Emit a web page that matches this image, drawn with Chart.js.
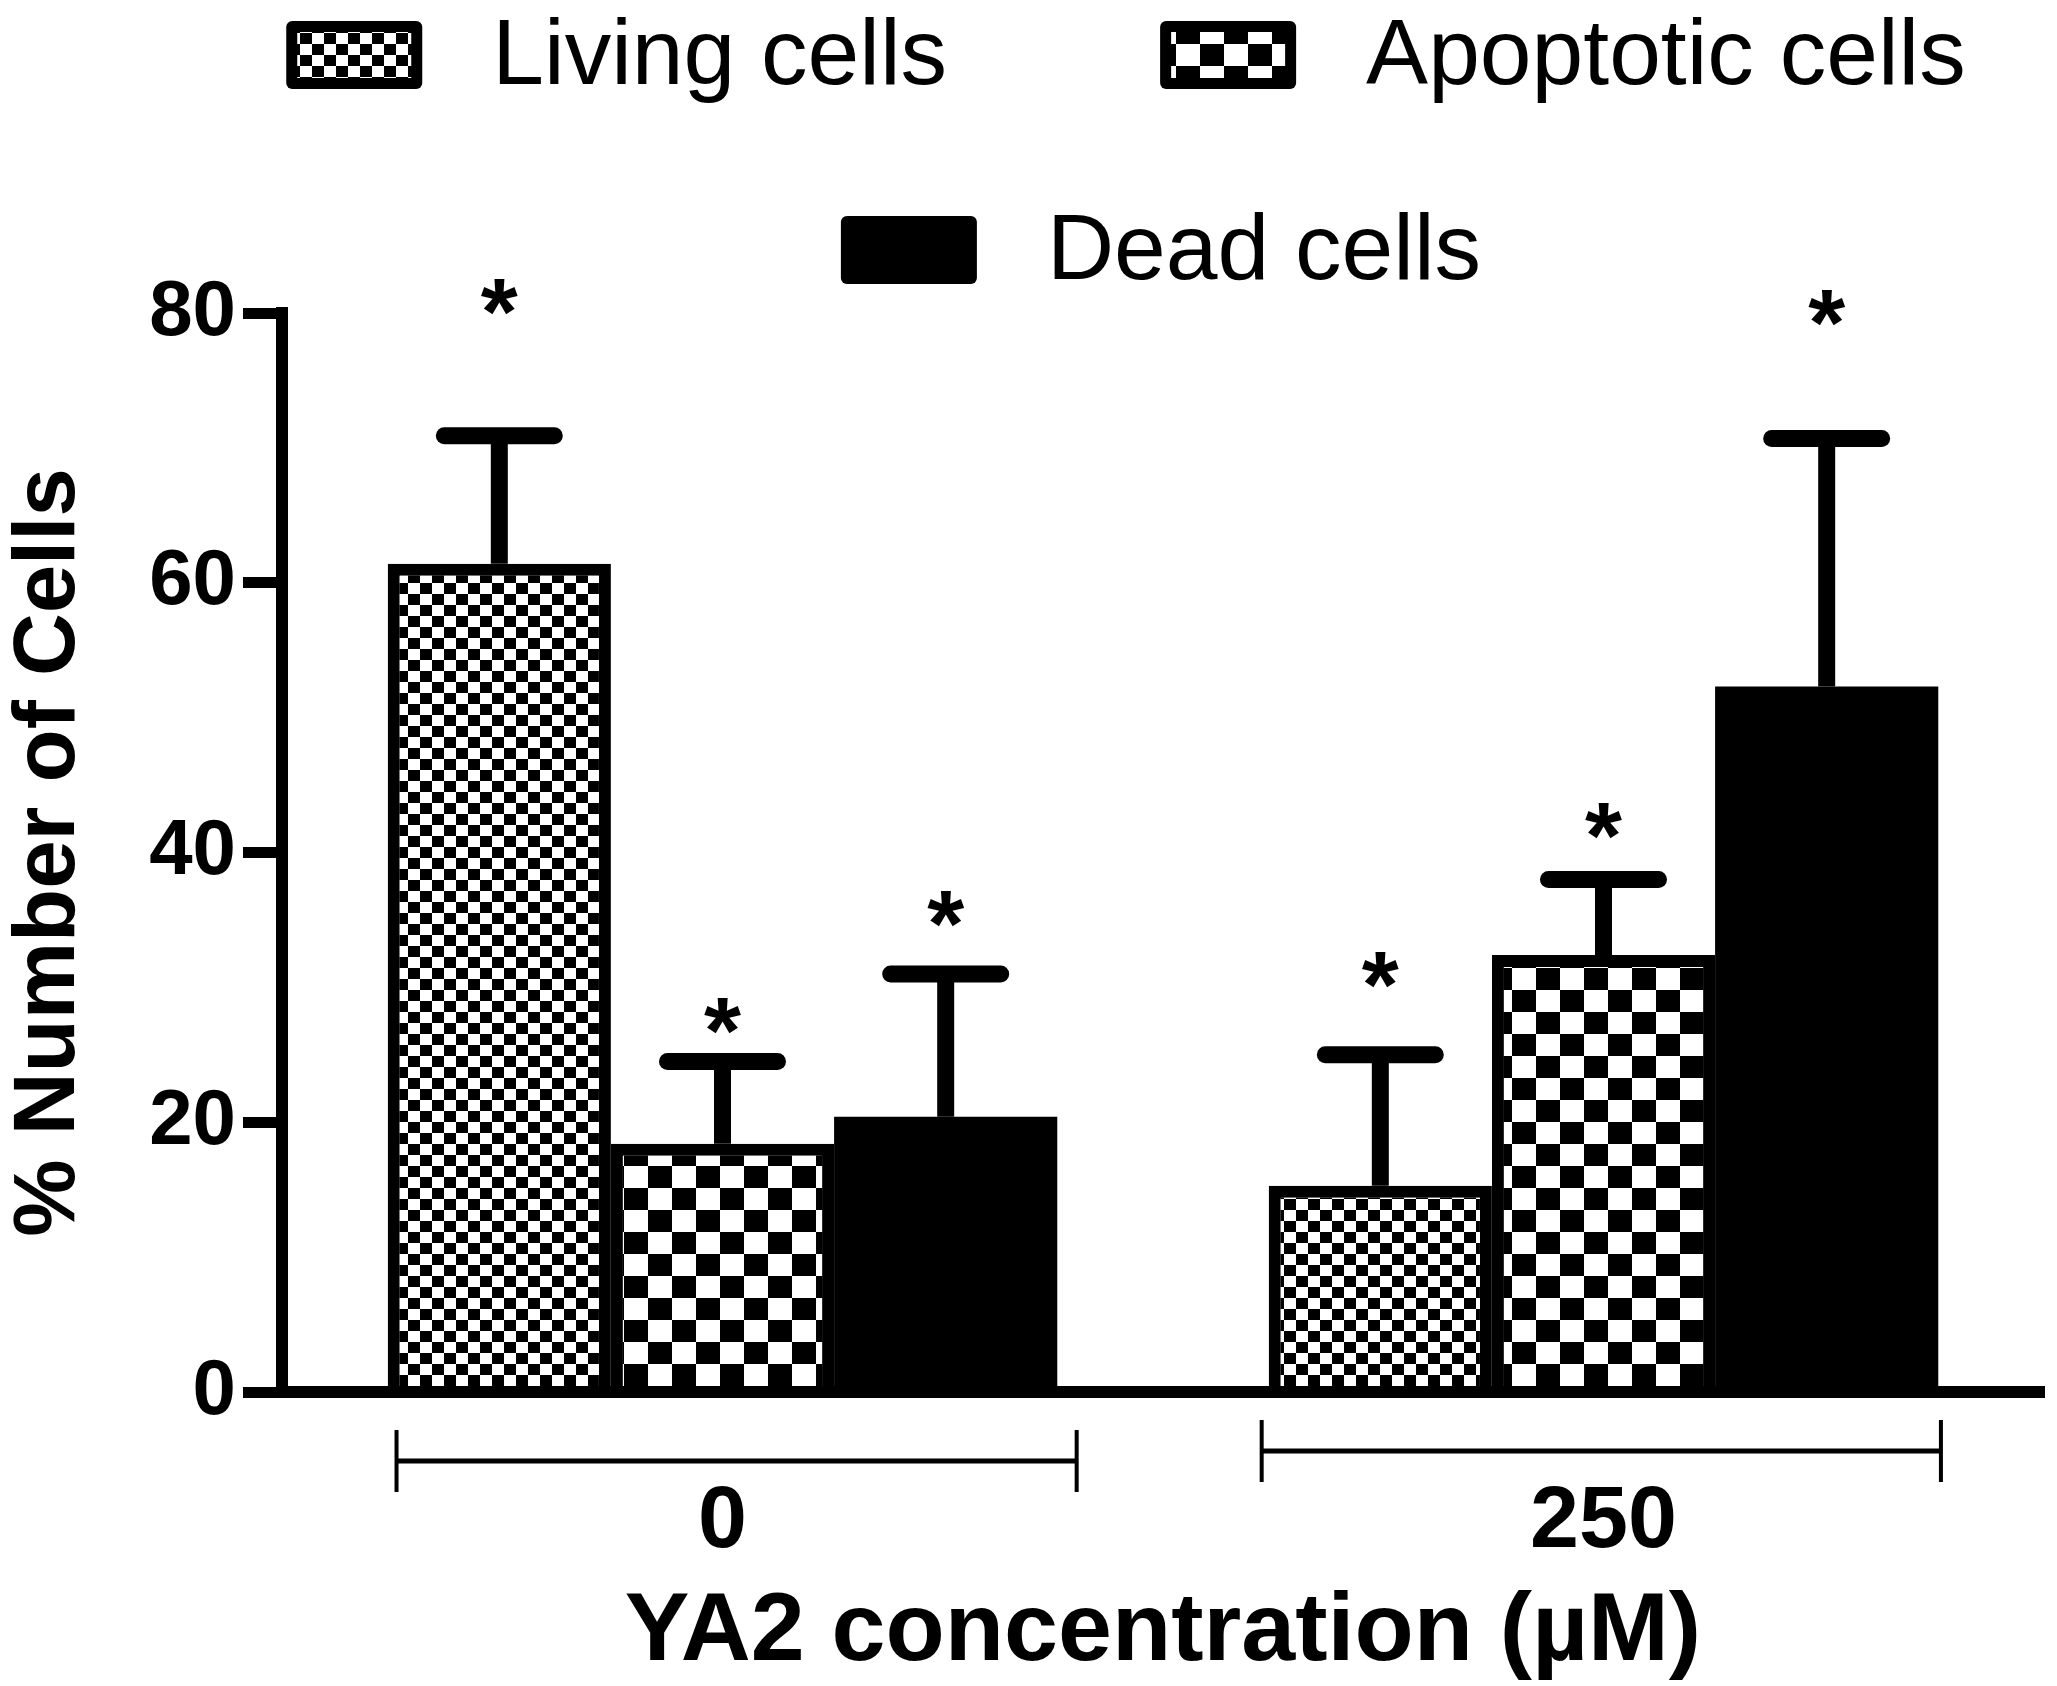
<!DOCTYPE html>
<html lang="en">

<head>
  <meta charset="UTF-8">
  <title>YA2 cell viability</title>
  <script src="https://cdn.jsdelivr.net/npm/chart.js"></script>
  <style>
    body { margin: 0; background: #fff; }
  </style>
</head>

<body>
  <canvas id="cellChart" width="2057" height="1686"></canvas>
  <script>
    // categories (YA2 concentration, uM)
    const concentrations = ['0', '250'];

    // mean % of cells
    const livingCells = [61.4, 15.3];
    const apoptoticCells = [18.4, 32.4];
    const deadCells = [20.4, 52.3];

    // upper error (SEM) above each mean
    const livingErr = [9.5, 9.7];
    const apoptoticErr = [6.1, 5.6];
    const deadErr = [10.6, 18.4];

    // height (in % units) where the significance asterisk sits
    const livingStar = [81.2, 31.3];
    const apoptoticStar = [27.9, 42.3];
    const deadStar = [35.8, 80.4];

    const yTicks = [0, 20, 40, 60, 80];

    const FONT = "'Liberation Sans', Arial, sans-serif";

    // checkerboard fill like the original hatch patterns
    function checker(cw, ch) {
      const c = document.createElement('canvas');
      c.width = cw * 2;
      c.height = ch * 2;
      const g = c.getContext('2d');
      g.fillStyle = '#fff';
      g.fillRect(0, 0, c.width, c.height);
      g.fillStyle = '#000';
      g.fillRect(0, 0, cw, ch);
      g.fillRect(cw, ch, cw, ch);
      return g.createPattern(c, 'repeat');
    }

    const ctx = document.getElementById('cellChart').getContext('2d');
    const fineCheck = checker(12, 11);
    const coarseCheck = checker(24, 22);

    // error bars + asterisks drawn on top of the bars
    const errorBars = {
      id: 'errorBars',
      afterDatasetsDraw(chart) {
        const g = chart.ctx;
        const y = chart.scales.y;
        g.save();
        g.strokeStyle = '#000';
        g.fillStyle = '#000';
        chart.data.datasets.forEach((ds, i) => {
          const meta = chart.getDatasetMeta(i);
          meta.data.forEach((bar, j) => {
            const top = y.getPixelForValue(ds.data[j] + ds.err[j]);
            const base = y.getPixelForValue(ds.data[j]);
            g.lineWidth = 17;
            g.lineCap = 'butt';
            g.beginPath();
            g.moveTo(bar.x, base);
            g.lineTo(bar.x, top);
            g.stroke();
            g.lineCap = 'round';
            g.beginPath();
            g.moveTo(bar.x - 55, top);
            g.lineTo(bar.x + 55, top);
            g.stroke();

            // asterisk, centred on its value
            g.font = 'bold 95px ' + FONT;
            g.textAlign = 'center';
            g.textBaseline = 'alphabetic';
            const m = g.measureText('*');
            const sy = y.getPixelForValue(ds.star[j]);
            g.fillText('*', bar.x, sy + (m.actualBoundingBoxAscent - m.actualBoundingBoxDescent) / 2);
          });
        });
        g.restore();
      }
    };

    // brackets under each concentration group (span as fraction of category width)
    const bracketSpan = [[-0.370, 0.402, 69], [-0.388, 0.383, 59]];
    const groupBrackets = {
      id: 'groupBrackets',
      afterDraw(chart) {
        const g = chart.ctx;
        const x = chart.scales.x;
        const catW = (x.right - x.left) / concentrations.length;
        g.save();
        g.strokeStyle = '#000';
        concentrations.forEach((c, i) => {
          const cx = x.getPixelForValue(i);
          const [a, b, off] = bracketSpan[i];
          const l = cx + catW * a;
          const r = cx + catW * b;
          const by = x.top + off;
          g.lineWidth = 5;
          g.beginPath();
          g.moveTo(l, by);
          g.lineTo(r, by);
          g.stroke();
          g.lineWidth = 4;
          g.beginPath();
          g.moveTo(l, by - 31);
          g.lineTo(l, by + 31);
          g.moveTo(r, by - 31);
          g.lineTo(r, by + 31);
          g.stroke();
        });
        g.restore();
      }
    };

    // legend in two rows, box then label
    const patternLegend = {
      id: 'patternLegend',
      afterDraw(chart) {
        const g = chart.ctx;
        const ds = chart.data.datasets;
        const rows = [
          { items: [0, 1], center: 1126, top: 21, baseline: 84 },
          { items: [2], center: 1161, top: 216, baseline: 279 }
        ];
        const boxW = 136, boxH = 68, gapText = 70, gapItem = 213, bw = 11;
        g.save();
        g.font = '93px ' + FONT;
        g.textBaseline = 'alphabetic';
        g.textAlign = 'left';
        rows.forEach(row => {
          const widths = row.items.map(i => g.measureText(ds[i].label).width);
          let total = 0;
          widths.forEach((w, k) => { total += boxW + gapText + w + (k > 0 ? gapItem : 0); });
          let cx = row.center - total / 2;
          row.items.forEach((i, k) => {
            g.fillStyle = '#000';
            g.beginPath();
            g.roundRect(cx, row.top, boxW, boxH, 6);
            g.fill();
            g.fillStyle = ds[i].backgroundColor;
            g.fillRect(cx + bw, row.top + bw, boxW - 2 * bw, boxH - 2 * bw);
            g.fillStyle = '#000';
            g.fillText(ds[i].label, cx + boxW + gapText, row.baseline);
            cx += boxW + gapText + widths[k] + gapItem;
          });
        });
        g.restore();
      }
    };

    const barStyle = {
      borderColor: '#000',
      borderWidth: 12,
      borderSkipped: 'start',
      categoryPercentage: 0.76,
      barPercentage: 1.0
    };

    new Chart(ctx, {
      type: 'bar',
      data: {
        labels: concentrations,
        datasets: [
          Object.assign({ label: 'Living cells', data: livingCells, err: livingErr, star: livingStar, backgroundColor: fineCheck }, barStyle),
          Object.assign({ label: 'Apoptotic cells', data: apoptoticCells, err: apoptoticErr, star: apoptoticStar, backgroundColor: coarseCheck }, barStyle),
          // solid black: no separate border, avoids an antialiased seam
          Object.assign({}, barStyle, { label: 'Dead cells', data: deadCells, err: deadErr, star: deadStar, backgroundColor: '#000', borderWidth: 0 })
        ]
      },
      options: {
        responsive: false,
        devicePixelRatio: 1,
        animation: false,
        layout: { padding: { top: 313, right: 13, bottom: 0, left: 0 } },
        plugins: {
          legend: { display: false },
          tooltip: { enabled: false }
        },
        scales: {
          x: {
            grid: { display: false, drawTicks: false },
            border: { display: true, color: '#000', width: 12, z: 1 },
            ticks: {
              color: '#000',
              padding: 78,
              font: { family: FONT, size: 88, weight: 'bold' }
            },
            title: {
              display: true,
              text: 'YA2 concentration (µM)',
              color: '#000',
              padding: { top: 0, bottom: 4 },
              font: { family: FONT, size: 97, weight: 'bold', lineHeight: 1 }
            },
            afterFit(scale) { scale.height = 294; }
          },
          y: {
            min: 0,
            max: 80,
            afterBuildTicks(scale) { scale.ticks = yTicks.map(v => ({ value: v })); },
            grid: {
              drawOnChartArea: false,
              color: '#000',
              lineWidth: 11,
              tickLength: 39,
              tickWidth: 11,
              tickColor: '#000'
            },
            border: { display: true, color: '#000', width: 12, z: 1 },
            ticks: {
              color: '#000',
              padding: 7,
              font: { family: FONT, size: 78, weight: 'bold' }
            },
            title: {
              display: true,
              text: '% Number of Cells',
              color: '#000',
              padding: { top: 7, bottom: 0 },
              font: { family: FONT, size: 87, weight: 'bold', lineHeight: 1 }
            },
            afterFit(scale) { scale.width = 282; }
          }
        }
      },
      plugins: [errorBars, groupBrackets, patternLegend]
    });
  </script>
</body>

</html>
